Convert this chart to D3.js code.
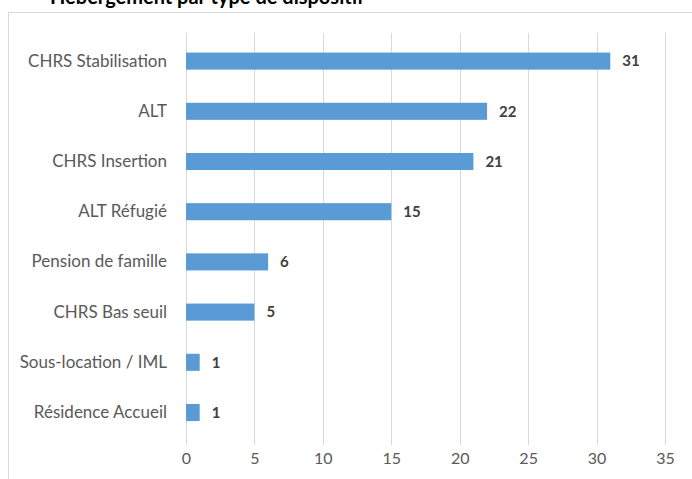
<!DOCTYPE html>
<html><head><meta charset="utf-8">
<script src="https://cdn.jsdelivr.net/npm/d3@7"></script>
<style>body{margin:0;background:#fff;overflow:hidden}svg{display:block}</style>
</head><body>
<script>
const categories = ["CHRS Stabilisation","ALT","CHRS Insertion","ALT Réfugié","Pension de famille","CHRS Bas seuil","Sous-location / IML","Résidence Accueil"];
const values = [31,22,21,15,6,5,1,1];
const xTicks = [0,5,10,15,20,25,30,35];
const title = "Hébergement par type de dispositif";

const W=692,H=479;
const svg=d3.select("body").append("svg").attr("width",W).attr("height",H);
const font="Lato, 'Open Sans', sans-serif";

// partially clipped title (as in the reference crop)
svg.append("text").attr("x",50).attr("y",4).attr("font-family",font)
  .attr("font-weight","bold").attr("font-size",20).attr("fill","#000").text(title);

// chart border
svg.append("rect").attr("x",8.5).attr("y",12.5).attr("width",W).attr("height",H)
  .attr("fill","#fff").attr("stroke","#d9d9d9");

const x=d3.scaleLinear().domain([0,35]).range([186,665]);
const y=d3.scaleBand().domain(categories).range([36,437.6]).paddingInner(0.66).paddingOuter(0.33);

// gridlines
svg.append("g").selectAll("line").data(xTicks).join("line")
  .attr("x1",d=>Math.round(x(d))+0.5).attr("x2",d=>Math.round(x(d))+0.5)
  .attr("y1",33).attr("y2",445).attr("stroke","#d9d9d9");

// x axis labels
const xa=svg.append("g").attr("transform","translate(0,445)")
  .call(d3.axisBottom(x).tickValues(xTicks).tickSize(0).tickPadding(8));
xa.select(".domain").remove();
xa.selectAll("text").attr("font-family",font).attr("font-size",16).attr("fill","#595959");

// y labels
const ya=svg.append("g").attr("transform","translate(186,0)")
  .call(d3.axisLeft(y).tickSize(0).tickPadding(19));
ya.select(".domain").remove();
ya.selectAll("text").attr("font-family",font).attr("font-size",17).attr("fill","#595959");

// bars
svg.append("g").selectAll("rect").data(values).join("rect")
  .attr("x",x(0)).attr("y",(d,i)=>y(categories[i]))
  .attr("width",d=>x(d)-x(0)).attr("height",y.bandwidth()).attr("fill","#5b9bd5");

// value labels
svg.append("g").selectAll("text").data(values).join("text")
  .attr("x",d=>x(d)+12).attr("y",(d,i)=>y(categories[i])+y.bandwidth()/2)
  .attr("dy","0.35em").attr("font-family",font).attr("font-weight","bold")
  .attr("font-size",15).attr("fill","#404040").text(d=>d);
</script>
</body></html>
